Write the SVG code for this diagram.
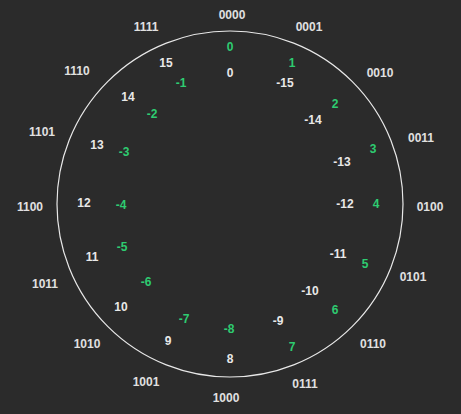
<svg xmlns="http://www.w3.org/2000/svg" width="461" height="414" viewBox="0 0 461 414">
<style>
text{font-family:"Liberation Sans",Arial,sans-serif;font-size:12px;font-weight:bold;text-anchor:middle;dominant-baseline:central}
.b{fill:#e0e0e0}
.u{fill:#e8e8e8}
.g{fill:#2ecc71}
</style>
<rect width="461" height="414" fill="#2b2b2b"/>
<g id="ring"><circle cx="230" cy="204" r="173" fill="none" stroke="#e8e8e8" stroke-width="1.2"/></g>
<g id="binary" class="b">
<text class="b" x="232" y="15">0000</text>
<text class="b" x="309" y="27">0001</text>
<text class="b" x="380" y="73">0010</text>
<text class="b" x="421" y="138">0011</text>
<text class="b" x="430" y="207">0100</text>
<text class="b" x="413" y="277">0101</text>
<text class="b" x="373" y="344">0110</text>
<text class="b" x="305" y="384">0111</text>
<text class="b" x="226" y="398">1000</text>
<text class="b" x="146" y="382">1001</text>
<text class="b" x="87" y="344">1010</text>
<text class="b" x="45" y="284">1011</text>
<text class="b" x="30" y="207">1100</text>
<text class="b" x="42" y="132">1101</text>
<text class="b" x="77" y="71">1110</text>
<text class="b" x="146" y="27">1111</text>
</g>
<g id="signed" class="g">
<text class="g" x="230" y="47">0</text>
<text class="g" x="292" y="63">1</text>
<text class="g" x="335" y="104">2</text>
<text class="g" x="373" y="149">3</text>
<text class="g" x="376" y="204">4</text>
<text class="g" x="365" y="264">5</text>
<text class="g" x="335" y="310">6</text>
<text class="g" x="292" y="347">7</text>
<text class="g" x="229" y="329">-8</text>
<text class="g" x="184" y="319">-7</text>
<text class="g" x="146" y="282">-6</text>
<text class="g" x="122" y="247">-5</text>
<text class="g" x="121" y="205">-4</text>
<text class="g" x="124" y="152">-3</text>
<text class="g" x="152" y="114">-2</text>
<text class="g" x="181" y="83">-1</text>
</g>
<g id="unsigned" class="u">
<text class="u" x="230" y="73">0</text>
<text class="u" x="285" y="83">-15</text>
<text class="u" x="313" y="120">-14</text>
<text class="u" x="342" y="162">-13</text>
<text class="u" x="345" y="204">-12</text>
<text class="u" x="338" y="254">-11</text>
<text class="u" x="310" y="291">-10</text>
<text class="u" x="278" y="321">-9</text>
<text class="u" x="230" y="359">8</text>
<text class="u" x="168" y="341">9</text>
<text class="u" x="121" y="307">10</text>
<text class="u" x="92" y="257">11</text>
<text class="u" x="84" y="203">12</text>
<text class="u" x="97" y="145">13</text>
<text class="u" x="128" y="97">14</text>
<text class="u" x="166" y="63">15</text>
</g>
</svg>
